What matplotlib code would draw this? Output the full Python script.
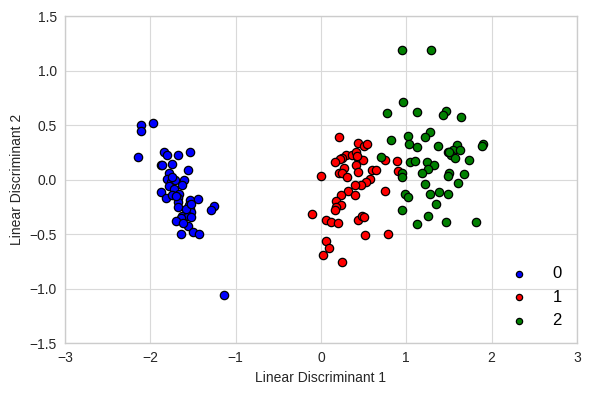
import matplotlib
matplotlib.use("Agg")
import matplotlib.pyplot as plt

plt.rcParams['font.family'] = ['Liberation Sans', 'DejaVu Sans']

x0 = [-2.11, -2.11, -1.97, -2.14, -1.84, -1.80, -1.67, -1.54, -1.88, -1.86,
      -1.74, -1.56, -1.78, -1.80, -1.76, -1.71, -1.60, -1.63, -1.78, -1.72,
      -1.66, -1.87, -1.82, -1.75, -1.68, -1.54, -1.44, -1.68, -1.55, -1.68,
      -1.54, -1.25, -1.29, -1.57, -1.52, -1.63, -1.56, -1.52, -1.64, -1.70,
      -1.56, -1.64, -1.50, -1.43, -1.14, -1.58, -1.70, -1.75, -1.62, -1.52]
y0 = [0.50, 0.45, 0.52, 0.21, 0.25, 0.23, 0.23, 0.25, 0.13, 0.13,
      0.14, 0.09, 0.06, 0.01, -0.02, 0.00, 0.00, -0.05, -0.06, -0.09,
      -0.13, -0.11, -0.17, -0.14, -0.17, -0.19, -0.18, -0.21, -0.23, -0.25,
      -0.27, -0.24, -0.28, -0.29, -0.30, -0.33, -0.33, -0.34, -0.35, -0.38,
      -0.43, -0.50, -0.48, -0.50, -1.06, -0.27, -0.15, 0.02, -0.40, -0.22]

x1 = [0.21, 0.44, 0.50, 0.54, 0.29, 0.37, 0.41, 0.43, 0.25, 0.22,
      0.17, 0.49, 0.41, 0.27, 0.21, 0.25, 0.43, 0.31, 0.00, 0.60,
      0.64, 0.75, 0.89, 0.90, 0.57, 0.53, 0.47, 0.40, 0.32, 0.40,
      0.75, 0.23, 0.18, 0.24, 0.18, 0.17, -0.10, 0.06, 0.12, 0.20,
      0.44, 0.48, 0.51, 0.52, 0.79, 0.06, 0.09, 0.03, 0.25, 0.42]
y1 = [0.39, 0.34, 0.31, 0.33, 0.23, 0.23, 0.25, 0.20, 0.20, 0.19,
      0.16, 0.18, 0.13, 0.11, 0.06, 0.06, 0.07, 0.02, 0.03, 0.09,
      0.09, 0.18, 0.17, 0.08, 0.01, -0.02, -0.05, -0.05, -0.10, -0.14,
      -0.10, -0.14, -0.20, -0.23, -0.25, -0.28, -0.32, -0.37, -0.39, -0.40,
      -0.37, -0.33, -0.34, -0.51, -0.50, -0.56, -0.63, -0.69, -0.76, 0.22]

x2 = [0.95, 0.96, 0.77, 1.13, 0.82, 1.02, 1.03, 1.13, 0.71, 1.05,
      1.10, 0.95, 0.95, 0.99, 1.02, 0.95, 1.13, 1.29, 1.47, 1.43,
      1.64, 1.28, 1.22, 1.37, 1.59, 1.55, 1.49, 1.63, 1.52, 1.57,
      1.90, 1.89, 1.74, 1.24, 1.33, 1.26, 1.19, 1.50, 1.49, 1.68,
      1.61, 1.22, 1.39, 1.28, 1.49, 1.35, 1.25, 1.47, 1.82, 1.50]
y2 = [1.19, 0.71, 0.61, 0.62, 0.36, 0.40, 0.33, 0.30, 0.21, 0.16,
      0.17, 0.06, 0.02, -0.13, -0.16, -0.28, -0.41, 1.19, 0.63, 0.59,
      0.57, 0.44, 0.39, 0.31, 0.32, 0.27, 0.25, 0.27, 0.23, 0.20,
      0.33, 0.31, 0.18, 0.16, 0.13, 0.10, 0.06, 0.06, 0.03, 0.05,
      -0.03, -0.04, -0.11, -0.13, -0.13, -0.22, -0.33, -0.39, -0.39, 0.25]

labels = ['0', '1', '2']
colors = ['blue', 'red', 'green']

fig = plt.figure(figsize=(5.91, 3.93), dpi=100)
ax = fig.add_axes([0.110, 0.127, 0.866, 0.832])
ax.set_facecolor('white')
ax.set_axisbelow(True)
ax.grid(True, color='#d9d9d9', linewidth=0.8)
for s in ax.spines.values():
    s.set_color('#cccccc')
    s.set_linewidth(1.0)

for xs, ys, c, lab in zip([x0, x1, x2], [y0, y1, y2], colors, labels):
    ax.scatter(xs, ys, s=36, c=c, edgecolors='black', linewidths=0.9, label=lab, zorder=3)

ax.set_xlim(-3, 3)
ax.set_ylim(-1.5, 1.5)
ax.set_xticks([-3, -2, -1, 0, 1, 2, 3])
ax.set_yticks([-1.5, -1.0, -0.5, 0.0, 0.5, 1.0, 1.5])
ax.tick_params(length=0, labelsize=10, colors='#262626', pad=6)
ax.set_xlabel('Linear Discriminant 1', fontsize=10, color='#262626')
ax.set_ylabel('Linear Discriminant 2', fontsize=10, color='#262626')

ax.legend(loc='lower right', frameon=False, fontsize=12, markerscale=0.75,
          handletextpad=1.0, labelspacing=0.5)

fig.savefig('out.png', dpi=100)
